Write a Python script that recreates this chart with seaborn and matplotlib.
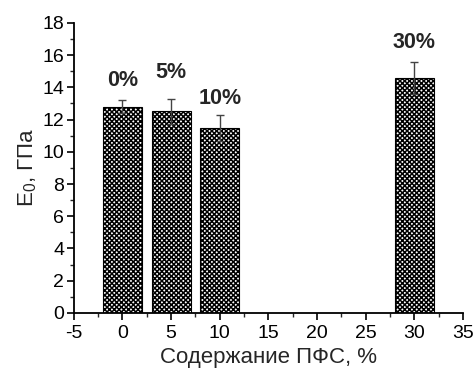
import matplotlib
matplotlib.use("Agg")
import matplotlib.pyplot as plt
import seaborn as sns
import pandas as pd
from matplotlib.ticker import MultipleLocator

content = [0, 5, 10, 30]
modulus = [12.8, 12.5, 11.5, 14.6]
errors = [0.4, 0.8, 0.8, 1.0]
labels = ["0%", "5%", "10%", "30%"]
label_y = [14.45, 14.9, 13.3, 16.8]

sns.set_style("ticks")
plt.rcParams["font.family"] = ["Liberation Sans", "DejaVu Sans"]
plt.rcParams["mathtext.fontset"] = "custom"
plt.rcParams["mathtext.rm"] = "Liberation Sans"
plt.rcParams["mathtext.it"] = "Liberation Sans"
plt.rcParams["axes.unicode_minus"] = False
plt.rcParams["hatch.linewidth"] = 1.1
plt.rcParams["hatch.color"] = "black"

df = pd.DataFrame({"x": content, "y": modulus})

fig = plt.figure(figsize=(4.76, 3.69), dpi=100)
ax = fig.add_axes([0.155, 0.152, 0.818, 0.786])

sns.barplot(data=df, x="x", y="y", native_scale=True, errorbar=None,
            color="white", edgecolor="black", linewidth=0.8, ax=ax)
for p in ax.patches:
    p.set_hatch("xxxxxxx")
    p.set_facecolor("white")

ax.errorbar(content, modulus, yerr=errors, fmt="none", ecolor="#444444",
            elinewidth=1.0, capsize=3, capthick=1.0)

for xv, yv, t in zip(content, label_y, labels):
    ax.text(xv, yv, t, ha="center", va="center", fontsize=15.5, fontweight="bold")

ax.set_xlim(-5, 35)
ax.set_ylim(0, 18)
ax.xaxis.set_major_locator(MultipleLocator(5))
ax.xaxis.set_minor_locator(MultipleLocator(2.5))
ax.yaxis.set_major_locator(MultipleLocator(2))
ax.yaxis.set_minor_locator(MultipleLocator(1))
ax.tick_params(which="major", direction="out", length=5, width=1.2, labelsize=14, colors="black", pad=2)
ax.tick_params(axis="x", which="major", pad=4)
ax.tick_params(which="minor", direction="out", length=3, width=1.0)
sns.despine(ax=ax)
for s in ["left", "bottom"]:
    ax.spines[s].set_linewidth(1.3)
    ax.spines[s].set_color("black")

ax.set_xlabel("Содержание ПФС, %", fontsize=16, labelpad=3)
ax.set_ylabel("E$_{\\mathrm{0}}$, ГПа", fontsize=16, labelpad=2)

fig.savefig("out.png", dpi=100)
